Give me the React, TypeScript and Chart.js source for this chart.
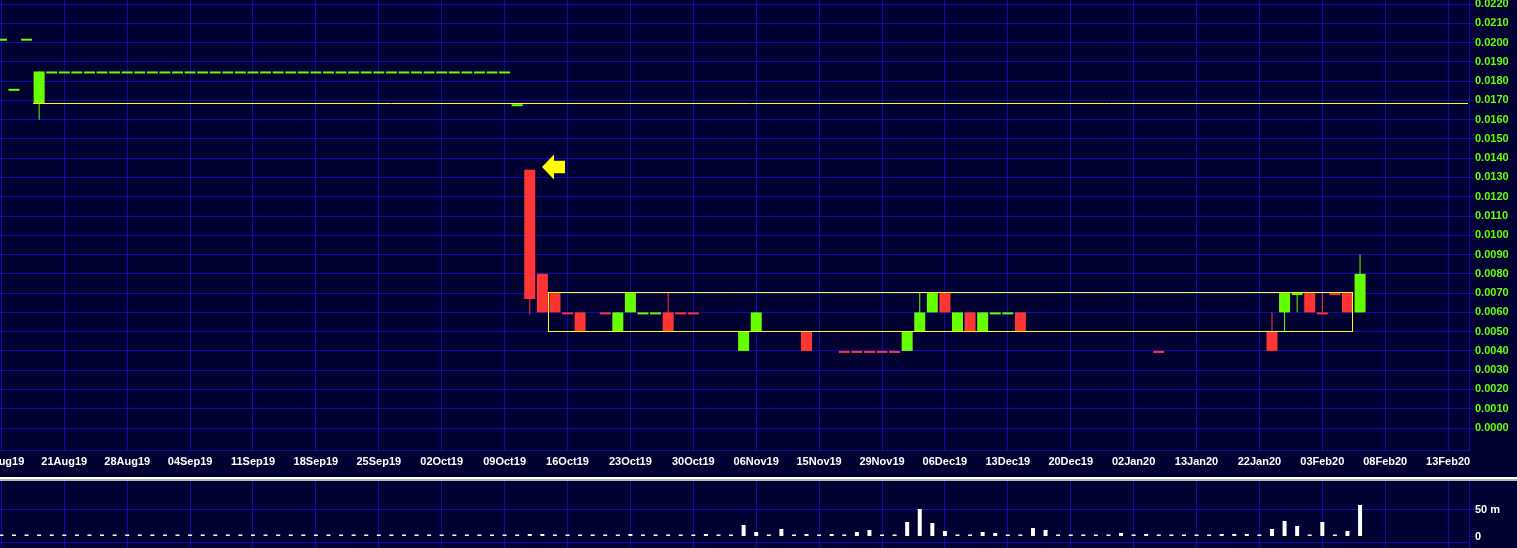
import React, { useEffect, useRef } from 'react';
import { Chart, registerables } from 'chart.js';

Chart.register(...registerables);

// ---------- data ----------
const xTickBars = [0, 5, 10, 15, 20, 25, 30, 35, 40, 45, 50, 55, 60, 65, 70, 75, 80, 85, 90, 95, 100, 105, 110, 115];
const xTickLabels = ['14Aug19', '21Aug19', '28Aug19', '04Sep19', '11Sep19', '18Sep19', '25Sep19', '02Oct19', '09Oct19', '16Oct19', '23Oct19', '30Oct19', '06Nov19', '15Nov19', '29Nov19', '06Dec19', '13Dec19', '20Dec19', '02Jan20', '13Jan20', '22Jan20', '03Feb20', '08Feb20', '13Feb20'];
const priceTicks = [0, 0.001, 0.002, 0.003, 0.004, 0.005, 0.006, 0.007, 0.008, 0.009, 0.01, 0.011, 0.012, 0.013, 0.014, 0.015, 0.016, 0.017, 0.018, 0.019, 0.02, 0.021, 0.022];
const volumeTicks = [-10.4, 0, 50];
const volumeTickLabels = ['', '0', '50 m'];

const opens: (number | null)[] = [
  0.0202, 0.0176, 0.0202, 0.01685, 0.0185, 0.0185, 0.0185, 0.0185, 0.0185, 0.0185,
  0.0185, 0.0185, 0.0185, 0.0185, 0.0185, 0.0185, 0.0185, 0.0185, 0.0185, 0.0185,
  0.0185, 0.0185, 0.0185, 0.0185, 0.0185, 0.0185, 0.0185, 0.0185, 0.0185, 0.0185,
  0.0185, 0.0185, 0.0185, 0.0185, 0.0185, 0.0185, 0.0185, 0.0185, 0.0185, 0.0185,
  0.0185, 0.0168, 0.0134, 0.008, 0.007, 0.006, 0.006, null, 0.006, 0.005,
  0.006, 0.006, 0.006, 0.006, 0.006, 0.006, null, null, null, 0.004,
  0.005, null, null, null, 0.005, null, null, 0.004, 0.004, 0.004,
  0.004, 0.004, 0.004, 0.005, 0.006, 0.007, 0.005, 0.006, 0.005, 0.006,
  0.006, 0.006, null, null, null, null, null, null, null, null,
  null, null, 0.004, null, null, null, null, null, null, null,
  null, 0.005, 0.006, 0.007, 0.007, 0.006, 0.007, 0.007, 0.006,
];
const highs: (number | null)[] = [
  0.0202, 0.0176, 0.0202, 0.0185, 0.0185, 0.0185, 0.0185, 0.0185, 0.0185, 0.0185,
  0.0185, 0.0185, 0.0185, 0.0185, 0.0185, 0.0185, 0.0185, 0.0185, 0.0185, 0.0185,
  0.0185, 0.0185, 0.0185, 0.0185, 0.0185, 0.0185, 0.0185, 0.0185, 0.0185, 0.0185,
  0.0185, 0.0185, 0.0185, 0.0185, 0.0185, 0.0185, 0.0185, 0.0185, 0.0185, 0.0185,
  0.0185, 0.0168, 0.0134, 0.008, 0.007, 0.006, 0.006, null, 0.006, 0.006,
  0.007, 0.006, 0.006, 0.007, 0.006, 0.006, null, null, null, 0.005,
  0.006, null, null, null, 0.005, null, null, 0.004, 0.004, 0.004,
  0.004, 0.004, 0.005, 0.007, 0.007, 0.007, 0.006, 0.006, 0.006, 0.006,
  0.006, 0.006, null, null, null, null, null, null, null, null,
  null, null, 0.004, null, null, null, null, null, null, null,
  null, 0.006, 0.007, 0.007, 0.007, 0.007, 0.007, 0.007, 0.009,
];
const lows: (number | null)[] = [
  0.0202, 0.0176, 0.0202, 0.016, 0.0185, 0.0185, 0.0185, 0.0185, 0.0185, 0.0185,
  0.0185, 0.0185, 0.0185, 0.0185, 0.0185, 0.0185, 0.0185, 0.0185, 0.0185, 0.0185,
  0.0185, 0.0185, 0.0185, 0.0185, 0.0185, 0.0185, 0.0185, 0.0185, 0.0185, 0.0185,
  0.0185, 0.0185, 0.0185, 0.0185, 0.0185, 0.0185, 0.0185, 0.0185, 0.0185, 0.0185,
  0.0185, 0.0168, 0.0059, 0.006, 0.006, 0.006, 0.005, null, 0.006, 0.005,
  0.006, 0.006, 0.006, 0.005, 0.006, 0.006, null, null, null, 0.004,
  0.005, null, null, null, 0.004, null, null, 0.004, 0.004, 0.004,
  0.004, 0.004, 0.004, 0.005, 0.006, 0.006, 0.005, 0.005, 0.005, 0.006,
  0.006, 0.005, null, null, null, null, null, null, null, null,
  null, null, 0.004, null, null, null, null, null, null, null,
  null, 0.004, 0.005, 0.006, 0.006, 0.006, 0.007, 0.006, 0.006,
];
const closes: (number | null)[] = [
  0.0202, 0.0176, 0.0202, 0.0185, 0.0185, 0.0185, 0.0185, 0.0185, 0.0185, 0.0185,
  0.0185, 0.0185, 0.0185, 0.0185, 0.0185, 0.0185, 0.0185, 0.0185, 0.0185, 0.0185,
  0.0185, 0.0185, 0.0185, 0.0185, 0.0185, 0.0185, 0.0185, 0.0185, 0.0185, 0.0185,
  0.0185, 0.0185, 0.0185, 0.0185, 0.0185, 0.0185, 0.0185, 0.0185, 0.0185, 0.0185,
  0.0185, 0.0168, 0.0067, 0.006, 0.006, 0.006, 0.005, null, 0.006, 0.006,
  0.007, 0.006, 0.006, 0.005, 0.006, 0.006, null, null, null, 0.005,
  0.006, null, null, null, 0.004, null, null, 0.004, 0.004, 0.004,
  0.004, 0.004, 0.005, 0.006, 0.007, 0.006, 0.006, 0.005, 0.006, 0.006,
  0.006, 0.005, null, null, null, null, null, null, null, null,
  null, null, 0.004, null, null, null, null, null, null, null,
  null, 0.004, 0.007, 0.007, 0.006, 0.006, 0.007, 0.006, 0.008,
];
// bars whose open equals close but are drawn as down (red) days
const downDojis = [45, 48, 54, 55, 67, 68, 69, 70, 71, 92, 105, 106];

// volume in millions
const volumes: number[] = [
  0.5, 0.5, 0.5, 3.4, 0.5, 0.5, 0.5, 0.5, 0.5, 0.5,
  0.5, 0.5, 0.5, 0.5, 0.5, 0.5, 0.5, 0.5, 0.5, 0.5,
  0.5, 0.5, 0.5, 0.5, 0.5, 0.5, 0.5, 0.5, 0.5, 0.5,
  0.5, 0.5, 0.5, 0.5, 0.5, 0.5, 0.5, 0.5, 0.5, 0.5,
  0.5, 0.5, 4.7, 4.7, 2.8, 2.8, 0.5, 0.5, 0.5, 0.5,
  4.7, 2.8, 0.5, 2.8, 0.5, 0.5, 4.7, 0.5, 2.8, 21.7,
  8.5, 0.5, 14.2, 2.8, 4.7, 0.5, 4.7, 2.8, 8.5, 12.3,
  2.8, 0.5, 27.4, 51.9, 25.5, 10.4, 2.8, 2.8, 8.5, 6.6,
  0.5, 2.8, 16, 12.3, 2.8, 2.8, 0.5, 0.5, 0.5, 6.6,
  0.5, 4.7, 0.5, 0.5, 0.5, 2.8, 0.5, 4.7, 4.7, 4.7,
  0.5, 14.2, 29.2, 19.8, 0.5, 27.4, 0.5, 10.4, 59.4,
];

// annotations (data space)
const resistanceLine = { fromBar: 2.5, price: 0.0168 };
const rangeBox = { fromBar: 43.55, toBar: 107.4, low: 0.005, high: 0.007 };
const arrowMark = { bar: 42.97, price: 0.01352 };

// ---------- style ----------
const X_MIN = -0.111;
const X_MAX = 116.66;
const BG = '#010132';
const GRID = '#0c0cae';
const UP = '#66ff00';
const DOWN = '#ff3535';
const YELLOW = '#ffff00';
const FONT = { family: "'Liberation Sans', Arial, sans-serif", size: 11, weight: 'bold' as const };

const isUp = (i: number) => {
  const o = opens[i] as number;
  const c = closes[i] as number;
  if (c > o) return true;
  if (c < o) return false;
  return !downDojis.includes(i);
};

const annotationPlugin = {
  id: 'annotations',
  afterDatasetsDraw(chart: any) {
    const { ctx, scales, chartArea } = chart;
    const xs = scales.x;
    const ys = scales.y;
    const snap = (v: number) => Math.round(v) - 0.5;
    ctx.save();
    ctx.strokeStyle = YELLOW;
    ctx.lineWidth = 1;
    // resistance line
    const ry = snap(ys.getPixelForValue(resistanceLine.price));
    ctx.beginPath();
    ctx.moveTo(Math.round(xs.getPixelForValue(resistanceLine.fromBar)), ry);
    ctx.lineTo(chartArea.right - 1, ry);
    ctx.stroke();
    // range box
    const bx1 = snap(xs.getPixelForValue(rangeBox.fromBar));
    const bx2 = snap(xs.getPixelForValue(rangeBox.toBar));
    const by1 = snap(ys.getPixelForValue(rangeBox.high));
    const by2 = snap(ys.getPixelForValue(rangeBox.low));
    ctx.strokeRect(bx1, by1, bx2 - bx1, by2 - by1);
    // arrow
    const px = Math.round(xs.getPixelForValue(arrowMark.bar));
    const py = Math.round(ys.getPixelForValue(arrowMark.price));
    ctx.fillStyle = YELLOW;
    ctx.beginPath();
    ctx.moveTo(px, py);
    ctx.lineTo(px + 12, py - 12.5);
    ctx.lineTo(px + 12, py - 6.3);
    ctx.lineTo(px + 23, py - 6.3);
    ctx.lineTo(px + 23, py + 6.3);
    ctx.lineTo(px + 12, py + 6.3);
    ctx.lineTo(px + 12, py + 12.5);
    ctx.closePath();
    ctx.fill();
    ctx.restore();
  },
};

const xScaleBase = (showLabels: boolean) => ({
  type: 'linear' as const,
  position: 'bottom' as const,
  min: X_MIN,
  max: X_MAX,
  offset: false,
  afterBuildTicks: (s: any) => {
    s.ticks = xTickBars.map((v) => ({ value: v }));
  },
  afterFit: (s: any) => {
    s.height = showLabels ? 27 : 0;
    s.paddingLeft = 0;
    s.paddingRight = 0;
  },
  grid: { color: GRID, lineWidth: 1, drawTicks: false, offset: false },
  border: { display: showLabels, color: GRID },
  ticks: {
    display: showLabels,
    autoSkip: false,
    maxRotation: 0,
    minRotation: 0,
    padding: 5,
    color: '#ffffff',
    font: FONT,
    callback: (_v: any, index: number) => xTickLabels[index] ?? '',
  },
});

const baseOptions = {
  responsive: false,
  devicePixelRatio: 1,
  animation: false as const,
  events: [],
  layout: { padding: 0 },
  plugins: { legend: { display: false }, tooltip: { enabled: false } },
};

export default function App() {
  const mainRef = useRef<HTMLCanvasElement>(null);
  const volRef = useRef<HTMLCanvasElement>(null);

  useEffect(() => {
    document.body.style.margin = '0';

    const bodies: any[] = [];
    const bodyColors: string[] = [];
    const wicks: any[] = [];
    const wickColors: string[] = [];
    opens.forEach((o, i) => {
      if (o === null || closes[i] === null) return;
      const col = isUp(i) ? UP : DOWN;
      bodies.push({ x: i, y: [o, closes[i]] });
      bodyColors.push(col);
      if (highs[i] !== null && lows[i] !== null && highs[i] !== lows[i]) {
        wicks.push({ x: i, y: [lows[i], highs[i]] });
        wickColors.push(col);
      }
    });

    const main = new Chart(mainRef.current!, {
      type: 'bar',
      data: {
        datasets: [
          {
            data: bodies,
            backgroundColor: bodyColors,
            barThickness: 11,
            minBarLength: 2,
            grouped: false,
            borderWidth: 0,
            inflateAmount: 0,
            order: 1,
          } as any,
          {
            data: wicks,
            backgroundColor: wickColors,
            barThickness: 1,
            grouped: false,
            borderWidth: 0,
            inflateAmount: 0,
            order: 2,
          } as any,
        ],
      },
      options: {
        ...baseOptions,
        scales: {
          x: xScaleBase(true) as any,
          y: {
            position: 'right',
            min: -0.001141,
            max: 0.022208,
            afterBuildTicks: (s: any) => {
              s.ticks = priceTicks.map((v) => ({ value: v }));
            },
            afterFit: (s: any) => {
              s.width = 48;
              s.paddingTop = 0;
              s.paddingBottom = 0;
            },
            grid: { color: GRID, lineWidth: 1, drawTicks: true, tickLength: 5, tickColor: GRID },
            border: { display: true, color: GRID },
            ticks: {
              color: UP,
              font: FONT,
              padding: 1,
              autoSkip: false,
              callback: (v: any) => Number(v).toFixed(4),
            },
          } as any,
        },
      } as any,
      plugins: [annotationPlugin],
    });

    const vol = new Chart(volRef.current!, {
      type: 'bar',
      data: {
        datasets: [
          {
            data: volumes.map((v, i) => ({ x: i, y: v })),
            backgroundColor: '#ffffff',
            barThickness: 4,
            minBarLength: 2,
            grouped: false,
            borderWidth: 0,
            inflateAmount: 0,
          } as any,
        ],
      },
      options: {
        ...baseOptions,
        scales: {
          x: xScaleBase(false) as any,
          y: {
            position: 'right',
            min: -21.7,
            max: 104.7,
            afterBuildTicks: (s: any) => {
              s.ticks = volumeTicks.map((v) => ({ value: v }));
            },
            afterFit: (s: any) => {
              s.width = 48;
              s.paddingTop = 0;
              s.paddingBottom = 0;
            },
            grid: {
              color: (c: any) => (c.tick && c.tick.value === 0 ? 'rgba(0,0,0,0)' : GRID),
              tickColor: (c: any) => (c.tick && c.tick.value < 0 ? 'rgba(0,0,0,0)' : GRID),
              lineWidth: 1,
              drawTicks: true,
              tickLength: 5,
            },
            border: { display: true, color: GRID },
            ticks: {
              color: '#ffffff',
              font: FONT,
              padding: 1,
              autoSkip: false,
              callback: (_v: any, index: number) => volumeTickLabels[index] ?? '',
            },
          } as any,
        },
      } as any,
    });

    return () => {
      main.destroy();
      vol.destroy();
    };
  }, []);

  return (
    <div style={{ width: 1517, height: 548, background: BG, overflow: 'hidden' }}>
      <canvas ref={mainRef} width={1517} height={477} style={{ display: 'block' }} />
      <div style={{ height: 2, background: '#ffffff' }} />
      <div style={{ height: 2, background: '#b8b8b8' }} />
      <canvas ref={volRef} width={1517} height={67} style={{ display: 'block' }} />
    </div>
  );
}
